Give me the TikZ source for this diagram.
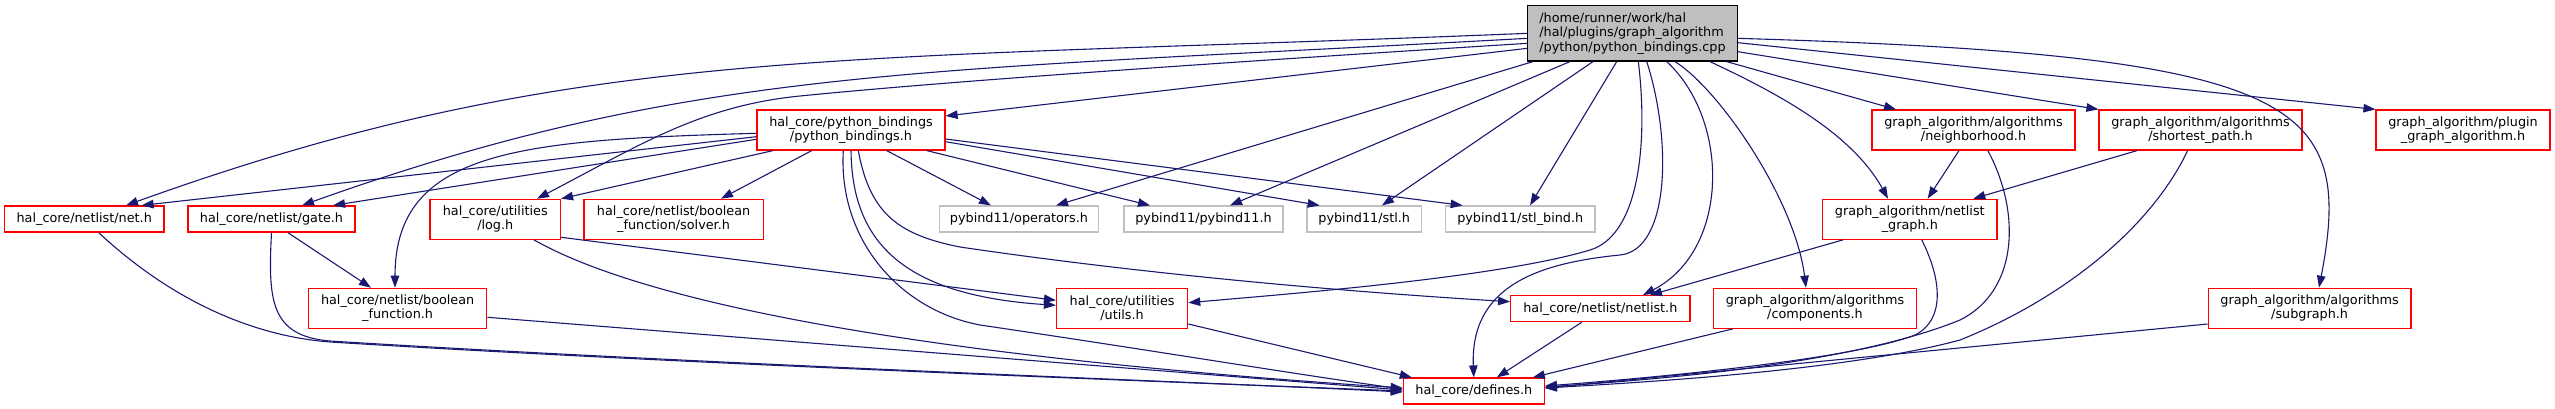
\documentclass[tikz,border=0pt]{standalone}
\usepackage{fontspec}
\setmainfont{DejaVu Sans}
\usepackage{tikz}
\usetikzlibrary{arrows.meta}

\definecolor{midnight}{RGB}{25,25,112}
\definecolor{greyfill}{RGB}{191,191,191}

\tikzset{
  hdr/.style={draw=red, line width=1.2pt, fill=white, inner sep=0pt,
    minimum height=26pt, align=center, font=\fontsize{12.8pt}{14.3pt}\selectfont},
  twoline/.style={minimum height=40pt},
  sys/.style={hdr, draw=greyfill},
  root/.style={hdr, draw=black, fill=greyfill, align=left, minimum height=55.3pt},
  dep/.style={draw=midnight, line width=1.1pt, -{Triangle[length=12pt,width=8.5pt]}}
}

\begin{document}
\begin{tikzpicture}[x=1pt, y=-1pt]
\useasboundingbox (0,0) rectangle (2555,409);

% the file itself
\node[root, minimum width=209.6pt] (main) at (1632.5,33.35)
  {/home/runner/work/hal\\/hal/plugins/graph\_algorithm\\/python/python\_bindings.cpp};

% second row
\node[hdr, twoline, minimum width=188pt] (pb) at (851,130) {hal\_core/python\_bindings\\/python\_bindings.h};
\node[hdr, twoline, minimum width=203pt] (nbh) at (1973.5,130) {graph\_algorithm/algorithms\\/neighborhood.h};
\node[hdr, twoline, minimum width=203pt] (sp) at (2200.5,130) {graph\_algorithm/algorithms\\/shortest\_path.h};
\node[hdr, twoline, minimum width=174pt] (plugin) at (2463,130) {graph\_algorithm/plugin\\\_graph\_algorithm.h};

% third row
\node[hdr, minimum width=159.5pt] (net) at (84.25,219) {hal\_core/netlist/net.h};
\node[hdr, minimum width=167pt] (gate) at (271.5,219) {hal\_core/netlist/gate.h};
\node[hdr, twoline, minimum width=130.5pt] (log) at (495.25,219.3) {hal\_core/utilities\\/log.h};
\node[hdr, twoline, minimum width=179.3pt] (solver) at (673.6,219.3) {hal\_core/netlist/boolean\\\_function/solver.h};
\node[sys, minimum width=159.4pt] (operators) at (1019,219) {pybind11/operators.h};
\node[sys, minimum width=159pt] (pybind) at (1203.5,219) {pybind11/pybind11.h};
\node[sys, minimum width=114.4pt] (stl) at (1364.2,219) {pybind11/stl.h};
\node[sys, minimum width=149.5pt] (stlbind) at (1520.25,219) {pybind11/stl\_bind.h};
\node[hdr, twoline, minimum width=174.4pt] (nlg) at (1909.8,219.3) {graph\_algorithm/netlist\\\_graph.h};

% fourth row
\node[hdr, twoline, minimum width=178.3pt] (bf) at (397.65,308.3) {hal\_core/netlist/boolean\\\_function.h};
\node[hdr, twoline, minimum width=131.2pt] (utils) at (1122.1,308.3) {hal\_core/utilities\\/utils.h};
\node[hdr, minimum width=179.3pt] (netlist) at (1600.35,308.7) {hal\_core/netlist/netlist.h};
\node[hdr, twoline, minimum width=203pt] (comps) at (1815,308.3) {graph\_algorithm/algorithms\\/components.h};
\node[hdr, twoline, minimum width=202.7pt] (subgraph) at (2309.6,308.3) {graph\_algorithm/algorithms\\/subgraph.h};

% bottom
\node[hdr, minimum width=141pt] (defines) at (1473.8,391) {hal\_core/defines.h};

% includes of the cpp file
\draw[dep] (main.west) .. controls (827,62) and (575,44) .. ([xshift=41.75pt]net.north);
\draw[dep] ([yshift=-5pt]main.west) .. controls (917,72) and (692,66) .. ([xshift=30.5pt]gate.north);
\draw[dep] ([yshift=-10pt]main.west) .. controls (1100,70) and (900,86) .. (800,96)
  .. controls (700,106) and (640,145) .. ([xshift=41.75pt]log.north);
\draw[dep] ([yshift=-15pt]main.west) -- ([yshift=14pt]pb.east);
\draw[dep] ([xshift=-99.5pt]main.south) -- ([xshift=37pt]operators.north);
\draw[dep] ([xshift=-62.5pt]main.south) -- ([xshift=26.5pt]pybind.north);
\draw[dep] ([xshift=-39.5pt]main.south) -- ([xshift=17.8pt]stl.north);
\draw[dep] ([xshift=-15.8pt]main.south) -- ([xshift=9.75pt]stlbind.north);
\draw[dep] ([xshift=5.8pt]main.south) .. controls (1648,140) and (1640,235) .. (1590,250)
  .. controls (1500,277) and (1300,293) .. ([yshift=5.6pt]utils.east);
\draw[dep] ([xshift=14.2pt]main.south) .. controls (1672,140) and (1670,250) .. (1620,255)
  .. controls (1540,263) and (1470,285) .. (defines.north);
\draw[dep] ([xshift=34.2pt]main.south) .. controls (1730,120) and (1730,250) .. ([xshift=42.65pt]netlist.north);
\draw[dep] ([xshift=42.5pt]main.south) .. controls (1720,90) and (1795,200) .. ([xshift=-9pt]comps.north);
\draw[dep] ([xshift=77.5pt]main.south) .. controls (1770,90) and (1850,130) .. ([xshift=-21.8pt]nlg.north);
\draw[dep] ([xshift=94pt]main.south) -- ([xshift=-77.5pt]nbh.north);
\draw[dep] ([yshift=-18.35pt]main.east) -- (sp.north west);
\draw[dep] ([yshift=-9.35pt]main.east) -- (plugin.north west);
\draw[dep] ([yshift=-5pt]main.east) .. controls (2300,55) and (2355,100) .. ([xshift=9.4pt]subgraph.north);

% includes of python_bindings.h
\draw[dep] ([yshift=-6.7pt]pb.west) -- ([xshift=57.35pt]net.north);
\draw[dep] ([yshift=-9.3pt]pb.west) -- ([xshift=61.5pt]gate.north);
\draw[dep] ([yshift=-3.3pt]pb.west) .. controls (520,140) and (395,150) .. ([xshift=-2.65pt]bf.north);
\draw[dep] ([xshift=-78pt]pb.south) -- (log.north east);
\draw[dep] ([xshift=-39.3pt]pb.south) -- ([xshift=47.4pt]solver.north);
\draw[dep] ([xshift=35.7pt]pb.south) -- ([xshift=-28pt]operators.north);
\draw[dep] ([xshift=75.7pt]pb.south) -- ([xshift=-53.5pt]pybind.north);
\draw[dep] ([yshift=-11.7pt]pb.east) -- ([xshift=-44.6pt]stl.north);
\draw[dep] ([yshift=-9pt]pb.east) -- ([xshift=-57.65pt]stlbind.north);
\draw[dep] ([xshift=-7.7pt]pb.south) .. controls (838,240) and (900,310) .. (980,325)
  .. controls (1150,350) and (1300,375) .. ([yshift=2pt]defines.west);
\draw[dep] (pb.south) .. controls (852,240) and (900,295) .. ([yshift=3pt]utils.west);
\draw[dep] ([xshift=7.3pt]pb.south) .. controls (870,215) and (900,235) .. (960,247)
  .. controls (1150,275) and (1350,292) .. ([yshift=7pt]netlist.west);

% the rest
\draw[dep] ([xshift=14.45pt]net.south) .. controls (160,290) and (240,335) .. (330,342)
  .. controls (700,365) and (1200,383) .. (defines.west);
\draw[dep] (gate.south) .. controls (268,300) and (270,336) .. (330,341)
  .. controls (700,364) and (1200,382) .. ([yshift=-1pt]defines.west);
\draw[dep] ([xshift=16.3pt]gate.south) -- ([xshift=-26.65pt]bf.north);
\draw[dep] ([yshift=-9pt]bf.east) -- ([yshift=1pt]defines.west);
\draw[dep] ([yshift=-18pt]log.east) -- ([yshift=8pt]utils.west);
\draw[dep] ([xshift=38.75pt]log.south) .. controls (640,300) and (900,355) .. ([yshift=3pt]defines.west);
\draw[dep] ([yshift=-15.7pt]utils.east) -- ([xshift=-62pt]defines.north);
\draw[dep] ([xshift=-18.65pt]netlist.south) -- ([xshift=23pt]defines.north);
\draw[dep] ([xshift=-66.9pt]nlg.south) -- ([xshift=49.65pt]netlist.north);
\draw[dep] ([xshift=11.9pt]nlg.south) .. controls (1942,280) and (1945,320) .. (1915,335)
  .. controls (1850,360) and (1650,378) .. ([yshift=5pt]defines.east);
\draw[dep] ([xshift=-14.5pt]nbh.south) -- ([xshift=17.8pt]nlg.north);
\draw[dep] ([xshift=14.3pt]nbh.south) .. controls (2020,210) and (2020,290) .. (1960,320)
  .. controls (1850,365) and (1650,380) .. ([yshift=4pt]defines.east);
\draw[dep] ([xshift=-63.5pt]sp.south) -- ([xshift=63.5pt]nlg.north);
\draw[dep] ([xshift=-12.9pt]sp.south) .. controls (2150,230) and (2060,300) .. (1960,340)
  .. controls (1850,370) and (1650,382) .. ([yshift=3pt]defines.east);
\draw[dep] ([xshift=-82.3pt]comps.south) -- ([xshift=59pt]defines.north);
\draw[dep] ([yshift=-15.7pt]subgraph.west) -- ([yshift=3pt]defines.east);

\end{tikzpicture}
\end{document}
